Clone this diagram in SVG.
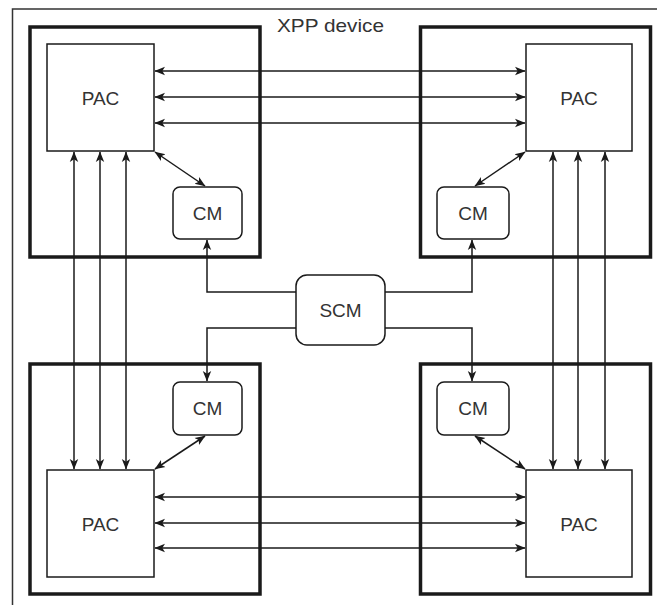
<svg xmlns="http://www.w3.org/2000/svg" width="657" height="605" viewBox="0 0 657 605">
<style>
.frame{fill:none;stroke:#333;stroke-width:1.5}
.module{fill:#fff;stroke:#1a1a1a;stroke-width:3.5}
.pac{fill:#fff;stroke:#1a1a1a;stroke-width:1.5}
.cm{fill:#fff;stroke:#1a1a1a;stroke-width:1.5}
.lbl{font-family:"Liberation Sans",Arial,sans-serif;font-size:19px;fill:#333;text-anchor:middle}
.c{fill:none;stroke:#1a1a1a;stroke-width:1.5}
.bi{marker-start:url(#ah);marker-end:url(#ah)}
.one{marker-end:url(#ah)}
</style>
<defs>
<marker id="ah" viewBox="0 0 10 10" refX="9.5" refY="5" markerWidth="7" markerHeight="7" orient="auto-start-reverse" markerUnits="strokeWidth">
<path d="M0,1 L10,5 L0,9 L2.5,5 z" fill="#1a1a1a"/>
</marker>
</defs>
<rect width="657" height="605" fill="#fff"/>
<g id="frame">
<path class="frame" d="M12.5,605 V9 H657"/>
<text class="lbl" x="330.5" y="32" textLength="107" lengthAdjust="spacingAndGlyphs">XPP device</text>
</g>
<g id="module-tl"><rect class="module" x="30" y="27" width="230" height="230"/></g>
<g id="module-tr"><rect class="module" x="420.5" y="27" width="230" height="230"/></g>
<g id="module-bl"><rect class="module" x="30" y="364" width="230" height="230"/></g>
<g id="module-br"><rect class="module" x="420.5" y="364" width="230" height="230"/></g>
<g id="pac-tl"><rect class="pac" x="47" y="44" width="107" height="107"/><text class="lbl" x="100.5" y="104.5">PAC</text></g>
<g id="pac-tr"><rect class="pac" x="526" y="44" width="106" height="107"/><text class="lbl" x="579" y="104.5">PAC</text></g>
<g id="pac-bl"><rect class="pac" x="47" y="470" width="107" height="107"/><text class="lbl" x="100.5" y="530.5">PAC</text></g>
<g id="pac-br"><rect class="pac" x="526" y="470" width="106" height="107"/><text class="lbl" x="579" y="530.5">PAC</text></g>
<g id="cm-tl"><rect class="cm" x="173" y="187" width="69" height="52" rx="7"/><text class="lbl" x="207.5" y="219.5">CM</text></g>
<g id="cm-tr"><rect class="cm" x="437" y="187" width="72" height="52" rx="7"/><text class="lbl" x="473" y="219.5">CM</text></g>
<g id="cm-bl"><rect class="cm" x="173" y="382" width="69" height="53" rx="7"/><text class="lbl" x="207.5" y="415">CM</text></g>
<g id="cm-br"><rect class="cm" x="437" y="382" width="72" height="53" rx="7"/><text class="lbl" x="473" y="415">CM</text></g>
<g id="scm"><rect class="cm" x="296" y="275" width="89" height="70" rx="11"/><text class="lbl" x="340.5" y="316.5">SCM</text></g>
<g id="connectors">
<line class="c bi" x1="155" y1="71" x2="525" y2="71"/>
<line class="c bi" x1="155" y1="97" x2="525" y2="97"/>
<line class="c bi" x1="155" y1="123" x2="525" y2="123"/>
<line class="c bi" x1="155" y1="497" x2="525" y2="497"/>
<line class="c bi" x1="155" y1="523" x2="525" y2="523"/>
<line class="c bi" x1="155" y1="548" x2="525" y2="548"/>
<line class="c bi" x1="74" y1="152" x2="74" y2="469"/>
<line class="c bi" x1="100" y1="152" x2="100" y2="469"/>
<line class="c bi" x1="126" y1="152" x2="126" y2="469"/>
<line class="c bi" x1="553" y1="152" x2="553" y2="469"/>
<line class="c bi" x1="578" y1="152" x2="578" y2="469"/>
<line class="c bi" x1="605" y1="152" x2="605" y2="469"/>
<line class="c bi" x1="155" y1="152" x2="205" y2="186"/>
<line class="c bi" x1="525" y1="152" x2="475" y2="186"/>
<line class="c bi" x1="155" y1="469" x2="205" y2="436"/>
<line class="c bi" x1="525" y1="469" x2="475" y2="436"/>
<path class="c one" d="M296,292 H207 V240"/>
<path class="c one" d="M385,292 H472 V240"/>
<path class="c one" d="M296,328 H207 V381"/>
<path class="c one" d="M385,328 H472 V381"/>
</g>
</svg>
